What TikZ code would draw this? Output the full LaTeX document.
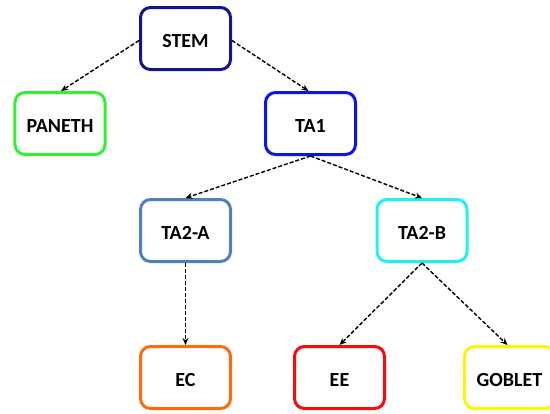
\documentclass[tikz,border=0pt]{standalone}
\usepackage{fontspec}
\setmainfont{Carlito}
\usetikzlibrary{arrows.meta}
\definecolor{cstem}{HTML}{14148C}
\definecolor{cpaneth}{HTML}{33F033}
\definecolor{cta}{HTML}{0A14F0}
\definecolor{ctaa}{HTML}{4F81BD}
\definecolor{ctab}{HTML}{1EF0F5}
\definecolor{cec}{HTML}{FF6A0A}
\definecolor{cee}{HTML}{FA0A0A}
\definecolor{cgob}{HTML}{FAF50A}
\tikzset{
  cell/.style={draw, line width=3bp, rounded corners=10bp, minimum width=90bp, minimum height=62bp, fill=white, font=\fontsize{20bp}{22bp}\selectfont\bfseries, inner sep=0pt, text height=17bp, text depth=0pt},
  link/.style={line width=1.4bp, -{Stealth[length=7bp,width=6bp]}, dash pattern=on 4bp off 2bp}
}
\begin{document}
\begin{tikzpicture}[x=1bp,y=-1bp]
\useasboundingbox (0,0) rectangle (550,413);
\begin{scope}
\clip (0,0) rectangle (550,413);
\node[cell, draw=cstem] (stem) at (185.5,38.5) {STEM};
\node[cell, draw=cpaneth] (paneth) at (60,123.5) {PANETH};
\node[cell, draw=cta] (ta1) at (310.5,123.5) {TA1};
\node[cell, draw=ctaa] (ta2a) at (185.5,230.5) {TA2-A};
\node[cell, draw=ctab] (ta2b) at (422,230.5) {TA2-B};
\node[cell, draw=cec] (ec) at (185.5,377.5) {EC};
\node[cell, draw=cee] (ee) at (339.5,377.5) {EE};
\node[cell, draw=cgob] (goblet) at (509.5,377.5) {GOBLET};
\draw[link] ([yshift=-2bp]stem.west) -- ([xshift=1bp]paneth.north);
\draw[link] ([yshift=-2bp]stem.east) -- ([xshift=-2bp]ta1.north);
\draw[link] (ta1.south) -- (ta2a.north);
\draw[link] (ta1.south) -- (ta2b.north);
\draw[link] (ta2a.south) -- (ec.north);
\draw[link] (ta2b.south) -- (ee.north);
\draw[link] (ta2b.south) -- ([xshift=-2bp]goblet.north);
\end{scope}
\end{tikzpicture}
\end{document}
